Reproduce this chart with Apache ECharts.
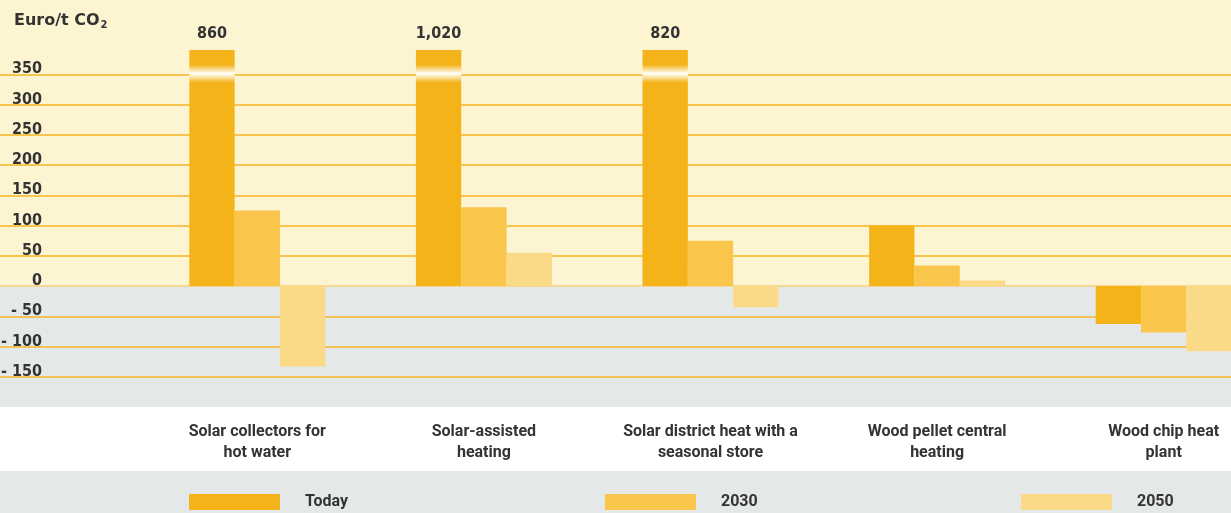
<!DOCTYPE html>
<html><head><meta charset="utf-8">
<script src="https://cdn.jsdelivr.net/npm/echarts@6/dist/echarts.min.js"></script>
<style>html,body{margin:0;padding:0;background:#fff}#c{width:1231px;height:513px}</style>
</head><body><div id="c"></div>
<script>
const categories = ['Solar collectors for\nhot water','Solar-assisted\nheating','Solar district heat with a\nseasonal store','Wood pellet central\nheating','Wood chip heat\nplant'];
const seriesNames = ['Today','2030','2050'];
const today = [860, 1020, 820, 100, -63];
const y2030 = [125, 130, 75, 34, -77];
const y2050 = [-133, 55, -35, 9, -108];
const yTicks = [-200,-150,-100,-50,0,50,100,150,200,250,300,350,400];
const shownTicks = [-150,-100,-50,0,50,100,150,200,250,300,350];
const CAP = 390;

const colors = ['#F5B31A','#F9C54B','#FBDA87'];
const FONT = 'Roboto, sans-serif';
const NUMFONT = '"DejaVu Sans Condensed",sans-serif';
const TXT = '#333333';

function breakGrad(c){
  return new echarts.graphic.LinearGradient(0,0,0,1,[
    {offset:0,color:c},{offset:0.062,color:c},
    {offset:0.085,color:'#FBE2A2'},{offset:0.1,color:'#FFFFFF'},
    {offset:0.115,color:'#FBE2A2'},{offset:0.138,color:c},{offset:1,color:c}]);
}
function fmt(v){return v.toLocaleString('en-US');}
function mkData(arr, ci){
  return arr.map(v => v > CAP ? {
    value: CAP,
    itemStyle:{color: breakGrad(colors[ci])},
    label:{show:true, formatter: fmt(v)}
  } : {value: v});
}

const areaColors = yTicks.slice(0,-1).map(t => t < 0 ? '#E5E8E9' : '#FDF4D1');
const lineColors = yTicks.map(t => shownTicks.indexOf(t) < 0 ? 'rgba(0,0,0,0)' : (t === 0 ? '#F7D27C' : '#F5B622'));

const chart = echarts.init(document.getElementById('c'));
chart.setOption({
  backgroundColor:'#FDF4D1',
  animation:false,
  grid:[
    {left:144, width:1133, top:44, bottom:106, outerBoundsMode:'none', containLabel:false},
    {left:0, right:0, top:44, bottom:106, outerBoundsMode:'none', containLabel:false}
  ],
  graphic:[
    {type:'rect', left:0, top:407, shape:{width:1231, height:64}, style:{fill:'#FFFFFF'}, z:-10},
    {type:'rect', left:0, top:471, shape:{width:1231, height:42}, style:{fill:'#E5E8E9'}, z:-10},
    {type:'text', left:14, top:13, style:{
      text:'{a|Euro/t CO}{s|2}', rich:{
        a:{fontFamily:'"DejaVu Sans",sans-serif', fontWeight:'bold', fontSize:16, fill:TXT},
        s:{fontFamily:'"DejaVu Sans",sans-serif', fontWeight:'bold', fontSize:10, fill:TXT, padding:[9,0,0,1]}
      }}}
  ],
  legend: seriesNames.map((n,i)=>({
    data:[n], left:[189,605,1021][i], top:494, padding:0, itemWidth:91, itemHeight:16, itemGap:0,
    icon:'rect', selectedMode:false,
    textStyle:{fontFamily:FONT, fontWeight:'bold', fontSize:16, color:TXT, padding:[9,0,0,20]}
  })),
  xAxis:[
    {type:'category', data:categories, gridIndex:0,
      axisLine:{show:false}, axisTick:{show:false},
      axisLabel:{interval:0, margin:14, fontFamily:FONT, fontWeight:'bold', fontSize:16, color:TXT, lineHeight:21}},
    {type:'value', gridIndex:1, show:false, min:0, max:1}
  ],
  yAxis:[
    {type:'value', gridIndex:0, min:-200, max:400, interval:50,
      axisLine:{show:false}, axisTick:{show:false}, splitLine:{show:false},
      axisLabel:{margin:102, align:'right', verticalAlign:'bottom', padding:[0,0,-3,0],
        fontFamily:NUMFONT, fontWeight:'bold', fontSize:16, color:TXT,
        formatter: v => shownTicks.indexOf(v) < 0 ? '' : (v < 0 ? '- ' + Math.abs(v) : String(v))}},
    {type:'value', gridIndex:1, min:-200, max:400, interval:50,
      axisLine:{show:false}, axisTick:{show:false}, axisLabel:{show:false},
      splitArea:{show:true, areaStyle:{color:areaColors}},
      splitLine:{show:true, lineStyle:{color:lineColors, width:1.5}}}
  ],
  series:[today,y2030,y2050].map((arr,i)=>({
    name:seriesNames[i], type:'bar', data:mkData(arr,i), xAxisIndex:0, yAxisIndex:0,
    barGap:'0%', barCategoryGap:'40%',
    itemStyle:{color:colors[i]},
    label:{show:false, position:'top', distance:8, fontFamily:NUMFONT, fontWeight:'bold', fontSize:16, color:TXT},
    emphasis:{disabled:true}
  })).concat([{type:'line', xAxisIndex:1, yAxisIndex:1, data:[], silent:true}])
});
</script></body></html>
